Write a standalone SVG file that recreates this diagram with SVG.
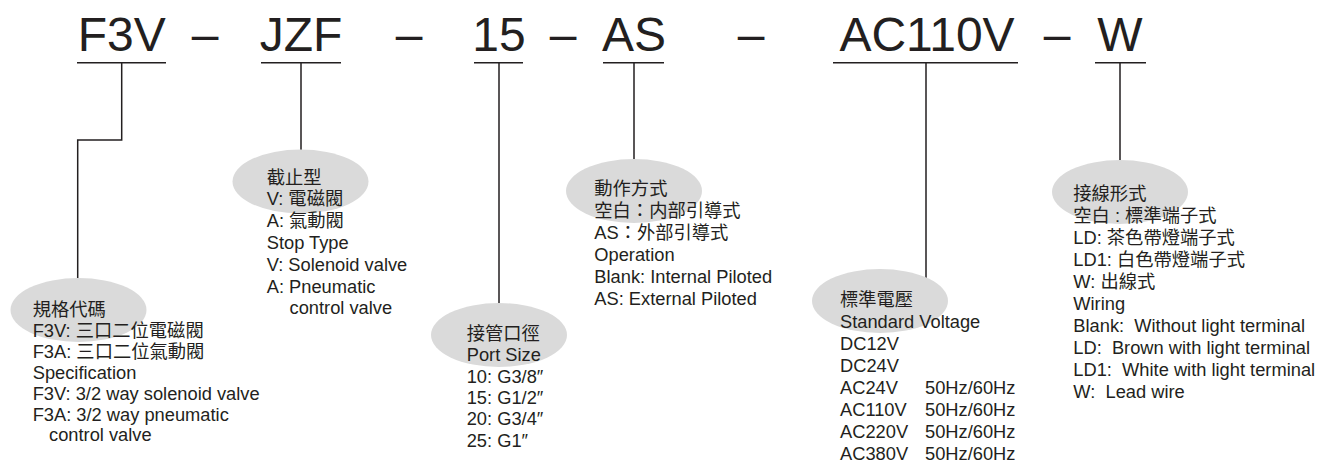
<svg xmlns="http://www.w3.org/2000/svg" width="1322" height="462" viewBox="0 0 1322 462">
<style>
  text { font-family: "Liberation Sans", "Noto Sans CJK TC", sans-serif; fill: #231f20; }
  .title { font-size: 48px; text-anchor: middle; }
  .t { font-size: 18.3px; white-space: pre; }
  .bubble { fill: #dadada; }
  .conn { fill: none; stroke: #231f20; stroke-width: 1.5; }
</style>
<rect width="1322" height="462" fill="#ffffff"/>

<g id="title">
  <g id="code-f3v"><text class="title" x="121.7" y="51">F3V</text></g>
  <text class="title" x="205" y="51">–</text>
  <g id="code-jzf"><text class="title" x="301" y="51">JZF</text></g>
  <text class="title" x="409" y="51">–</text>
  <g id="code-15"><text class="title" x="499" y="51">15</text></g>
  <text class="title" x="563" y="51">–</text>
  <g id="code-as"><text class="title" x="634" y="51">AS</text></g>
  <text class="title" x="751" y="51">–</text>
  <g id="code-ac110v"><text class="title" x="927" y="51">AC110V</text></g>
  <text class="title" x="1057" y="51">–</text>
  <g id="code-w"><text class="title" x="1120" y="51">W</text></g>
</g>

<g id="connectors" class="conn">
  <path d="M77,62.7 H166 M121.7,62.7 V140 H77.7 V278"/>
  <path d="M261,62.7 H341 M301,62.7 V150"/>
  <path d="M474,62.7 H523 M499,62.7 V303"/>
  <path d="M603,62.7 H664 M634,62.7 V159"/>
  <path d="M833,62.7 H1018 M926,62.7 V278"/>
  <path d="M1095,62.7 H1146 M1120,62.7 V160"/>
</g>

<g id="spec">
  <ellipse class="bubble" cx="78.5" cy="310" rx="68" ry="32"/>
  <text class="t" x="32.7" y="316">規格代碼</text>
  <text class="t" x="32.7" y="336.9">F3V: 三口二位電磁閥</text>
  <text class="t" x="32.7" y="357.8">F3A: 三口二位氣動閥</text>
  <text class="t" x="32.7" y="378.7">Specification</text>
  <text class="t" x="32.7" y="399.6">F3V: 3/2 way solenoid valve</text>
  <text class="t" x="32.7" y="420.5">F3A: 3/2 way pneumatic</text>
  <text class="t" x="49" y="441.4">control valve</text>
</g>

<g id="stop-type">
  <ellipse class="bubble" cx="300.5" cy="181.5" rx="68" ry="32"/>
  <text class="t" x="266.7" y="183.5">截止型</text>
  <text class="t" x="266.7" y="205.3">V: 電磁閥</text>
  <text class="t" x="266.7" y="227.1">A: 氣動閥</text>
  <text class="t" x="266.7" y="248.9">Stop Type</text>
  <text class="t" x="266.7" y="270.7">V: Solenoid valve</text>
  <text class="t" x="266.7" y="292.5">A: Pneumatic</text>
  <text class="t" x="289.5" y="314.3">control valve</text>
</g>

<g id="port-size">
  <ellipse class="bubble" cx="499" cy="335" rx="68" ry="32"/>
  <text class="t" x="466.7" y="340">接管口徑</text>
  <text class="t" x="466.7" y="361.3">Port Size</text>
  <text class="t" x="466.7" y="382.6">10: G3/8″</text>
  <text class="t" x="466.7" y="403.9">15: G1/2″</text>
  <text class="t" x="466.7" y="425.2">20: G3/4″</text>
  <text class="t" x="466.7" y="446.5">25: G1″</text>
</g>

<g id="operation">
  <ellipse class="bubble" cx="634" cy="191" rx="68" ry="32"/>
  <text class="t" x="594.3" y="195">動作方式</text>
  <text class="t" x="594.3" y="217">空白：内部引導式</text>
  <text class="t" x="594.3" y="239">AS：外部引導式</text>
  <text class="t" x="594.3" y="261">Operation</text>
  <text class="t" x="594.3" y="283">Blank: Internal Piloted</text>
  <text class="t" x="594.3" y="305">AS: External Piloted</text>
</g>

<g id="voltage">
  <ellipse class="bubble" cx="880" cy="301" rx="68" ry="32"/>
  <text class="t" x="840" y="306">標準電壓</text>
  <text class="t" x="840" y="328">Standard Voltage</text>
  <text class="t" x="840" y="350">DC12V</text>
  <text class="t" x="840" y="372">DC24V</text>
  <text class="t" x="840" y="394">AC24V<tspan x="925">50Hz/60Hz</tspan></text>
  <text class="t" x="840" y="416">AC110V<tspan x="925">50Hz/60Hz</tspan></text>
  <text class="t" x="840" y="438">AC220V<tspan x="925">50Hz/60Hz</tspan></text>
  <text class="t" x="840" y="460">AC380V<tspan x="925">50Hz/60Hz</tspan></text>
</g>

<g id="wiring">
  <ellipse class="bubble" cx="1120" cy="192" rx="68" ry="32"/>
  <text class="t" x="1073.3" y="200">接線形式</text>
  <text class="t" x="1073.3" y="222">空白 : 標準端子式</text>
  <text class="t" x="1073.3" y="244">LD: 茶色帶燈端子式</text>
  <text class="t" x="1073.3" y="266">LD1: 白色帶燈端子式</text>
  <text class="t" x="1073.3" y="288">W: 出線式</text>
  <text class="t" x="1073.3" y="310">Wiring</text>
  <text class="t" x="1073.3" y="332">Blank:  Without light terminal</text>
  <text class="t" x="1073.3" y="354">LD:  Brown with light terminal</text>
  <text class="t" x="1073.3" y="376">LD1:  White with light terminal</text>
  <text class="t" x="1073.3" y="398">W:  Lead wire</text>
</g>
</svg>
